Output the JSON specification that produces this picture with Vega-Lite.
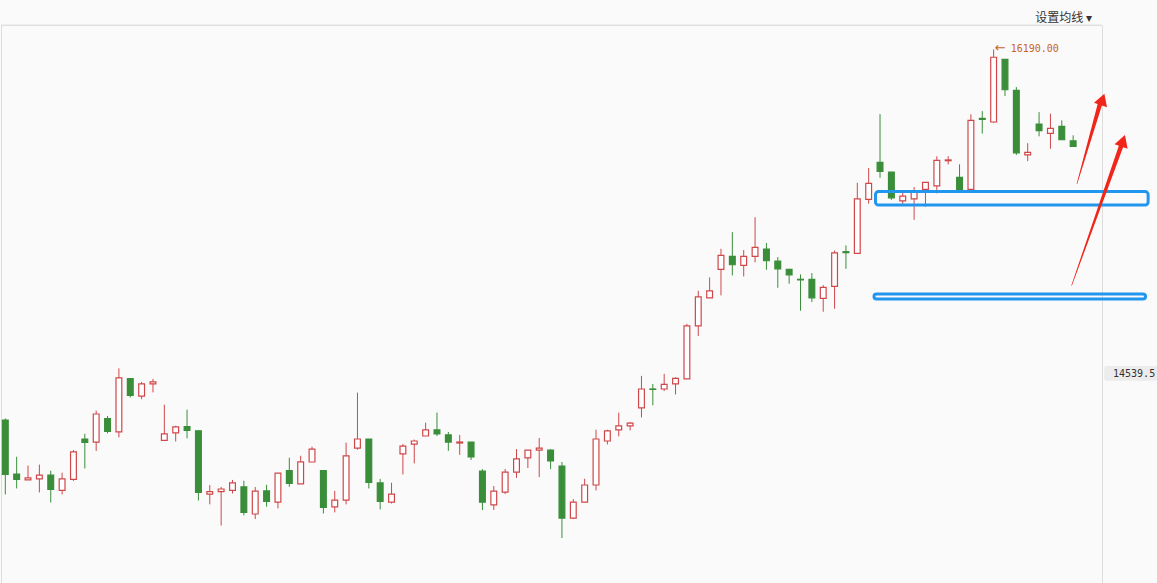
{
  "$schema": "https://vega.github.io/schema/vega-lite/v6.json",
  "width": 1101,
  "height": 560,
  "padding": {"left": 0, "top": 11, "right": 0, "bottom": 0},
  "background": "#fafafa",
  "title": {
    "text": "设置均线 ▾",
    "anchor": "end",
    "frame": "group",
    "orient": "top",
    "offset": 0,
    "dx": -10,
    "font": "Noto Sans CJK SC",
    "fontSize": 12,
    "fontWeight": "normal",
    "color": "#333333"
  },
  "datasets": {
    "candles": [
      {"i": 1, "o": 14352, "h": 14360, "l": 13983, "c": 14082},
      {"i": 2, "o": 14084, "h": 14170, "l": 14013, "c": 14058},
      {"i": 3, "o": 14055, "h": 14126, "l": 14055, "c": 14065},
      {"i": 4, "o": 14060, "h": 14131, "l": 13993, "c": 14079},
      {"i": 5, "o": 14079, "h": 14101, "l": 13943, "c": 14008},
      {"i": 6, "o": 14003, "h": 14091, "l": 13983, "c": 14060},
      {"i": 7, "o": 14058, "h": 14203, "l": 14050, "c": 14194},
      {"i": 8, "o": 14258, "h": 14284, "l": 14112, "c": 14241},
      {"i": 9, "o": 14243, "h": 14399, "l": 14199, "c": 14382},
      {"i": 10, "o": 14359, "h": 14372, "l": 14286, "c": 14296},
      {"i": 11, "o": 14293, "h": 14608, "l": 14266, "c": 14561},
      {"i": 12, "o": 14557, "h": 14557, "l": 14464, "c": 14474},
      {"i": 13, "o": 14471, "h": 14541, "l": 14455, "c": 14531},
      {"i": 14, "o": 14531, "h": 14556, "l": 14489, "c": 14541},
      {"i": 15, "o": 14251, "h": 14428, "l": 14251, "c": 14283},
      {"i": 16, "o": 14288, "h": 14324, "l": 14246, "c": 14318},
      {"i": 17, "o": 14319, "h": 14403, "l": 14261, "c": 14301},
      {"i": 18, "o": 14299, "h": 14299, "l": 13953, "c": 13993},
      {"i": 19, "o": 13985, "h": 14030, "l": 13934, "c": 13997},
      {"i": 20, "o": 13997, "h": 14020, "l": 13829, "c": 14010},
      {"i": 21, "o": 14003, "h": 14055, "l": 13988, "c": 14040},
      {"i": 22, "o": 14021, "h": 14051, "l": 13879, "c": 13894},
      {"i": 23, "o": 13886, "h": 14020, "l": 13861, "c": 14000},
      {"i": 24, "o": 14001, "h": 14031, "l": 13922, "c": 13948},
      {"i": 25, "o": 13945, "h": 14089, "l": 13914, "c": 14089},
      {"i": 26, "o": 14101, "h": 14165, "l": 14021, "c": 14038},
      {"i": 27, "o": 14035, "h": 14175, "l": 14035, "c": 14145},
      {"i": 28, "o": 14144, "h": 14220, "l": 14144, "c": 14208},
      {"i": 29, "o": 14101, "h": 14101, "l": 13889, "c": 13919},
      {"i": 30, "o": 13921, "h": 14001, "l": 13894, "c": 13955},
      {"i": 31, "o": 13955, "h": 14240, "l": 13934, "c": 14174},
      {"i": 32, "o": 14213, "h": 14488, "l": 14205, "c": 14258},
      {"i": 33, "o": 14258, "h": 14258, "l": 14013, "c": 14043},
      {"i": 34, "o": 14040, "h": 14060, "l": 13909, "c": 13948},
      {"i": 35, "o": 13945, "h": 14041, "l": 13938, "c": 13985},
      {"i": 36, "o": 14184, "h": 14233, "l": 14082, "c": 14223},
      {"i": 37, "o": 14233, "h": 14255, "l": 14137, "c": 14248},
      {"i": 38, "o": 14273, "h": 14339, "l": 14273, "c": 14303},
      {"i": 39, "o": 14303, "h": 14389, "l": 14273, "c": 14283},
      {"i": 40, "o": 14278, "h": 14293, "l": 14199, "c": 14243},
      {"i": 41, "o": 14238, "h": 14278, "l": 14179, "c": 14243},
      {"i": 42, "o": 14243, "h": 14243, "l": 14154, "c": 14169},
      {"i": 43, "o": 14099, "h": 14109, "l": 13906, "c": 13945},
      {"i": 44, "o": 13931, "h": 14025, "l": 13906, "c": 14000},
      {"i": 45, "o": 13995, "h": 14109, "l": 13985, "c": 14094},
      {"i": 46, "o": 14094, "h": 14208, "l": 14065, "c": 14159},
      {"i": 47, "o": 14164, "h": 14203, "l": 14114, "c": 14203},
      {"i": 48, "o": 14203, "h": 14263, "l": 14069, "c": 14213},
      {"i": 49, "o": 14203, "h": 14208, "l": 14109, "c": 14149},
      {"i": 50, "o": 14124, "h": 14144, "l": 13767, "c": 13866},
      {"i": 51, "o": 13866, "h": 13960, "l": 13861, "c": 13945},
      {"i": 52, "o": 13945, "h": 14061, "l": 13945, "c": 14030},
      {"i": 53, "o": 14030, "h": 14304, "l": 14003, "c": 14258},
      {"i": 54, "o": 14248, "h": 14304, "l": 14231, "c": 14298},
      {"i": 55, "o": 14303, "h": 14389, "l": 14271, "c": 14323},
      {"i": 56, "o": 14323, "h": 14342, "l": 14301, "c": 14337},
      {"i": 57, "o": 14412, "h": 14571, "l": 14365, "c": 14506},
      {"i": 58, "o": 14506, "h": 14531, "l": 14425, "c": 14504},
      {"i": 59, "o": 14506, "h": 14581, "l": 14496, "c": 14529},
      {"i": 60, "o": 14531, "h": 14564, "l": 14479, "c": 14559},
      {"i": 61, "o": 14556, "h": 14829, "l": 14556, "c": 14819},
      {"i": 62, "o": 14819, "h": 14993, "l": 14769, "c": 14963},
      {"i": 63, "o": 14958, "h": 15059, "l": 14958, "c": 14993},
      {"i": 64, "o": 15099, "h": 15201, "l": 14970, "c": 15169},
      {"i": 65, "o": 15164, "h": 15284, "l": 15069, "c": 15122},
      {"i": 66, "o": 15119, "h": 15195, "l": 15064, "c": 15164},
      {"i": 67, "o": 15164, "h": 15358, "l": 15134, "c": 15208},
      {"i": 68, "o": 15200, "h": 15230, "l": 15097, "c": 15142},
      {"i": 69, "o": 15140, "h": 15160, "l": 15008, "c": 15102},
      {"i": 70, "o": 15099, "h": 15099, "l": 15028, "c": 15072},
      {"i": 71, "o": 15050, "h": 15074, "l": 14894, "c": 15047},
      {"i": 72, "o": 15050, "h": 15081, "l": 14937, "c": 14958},
      {"i": 73, "o": 14955, "h": 15021, "l": 14889, "c": 15010},
      {"i": 74, "o": 15015, "h": 15193, "l": 14904, "c": 15181},
      {"i": 75, "o": 15187, "h": 15218, "l": 15102, "c": 15182},
      {"i": 76, "o": 15179, "h": 15529, "l": 15179, "c": 15449},
      {"i": 77, "o": 15446, "h": 15602, "l": 15425, "c": 15526},
      {"i": 78, "o": 15630, "h": 15869, "l": 15553, "c": 15585},
      {"i": 79, "o": 15582, "h": 15582, "l": 15444, "c": 15454},
      {"i": 80, "o": 15439, "h": 15492, "l": 15417, "c": 15462},
      {"i": 81, "o": 15449, "h": 15507, "l": 15345, "c": 15482},
      {"i": 82, "o": 15496, "h": 15531, "l": 15410, "c": 15531},
      {"i": 83, "o": 15513, "h": 15660, "l": 15476, "c": 15640},
      {"i": 84, "o": 15638, "h": 15660, "l": 15620, "c": 15642},
      {"i": 85, "o": 15555, "h": 15620, "l": 15496, "c": 15496},
      {"i": 86, "o": 15496, "h": 15868, "l": 15496, "c": 15838},
      {"i": 87, "o": 15848, "h": 15884, "l": 15772, "c": 15843},
      {"i": 88, "o": 15830, "h": 16190, "l": 15826, "c": 16151},
      {"i": 89, "o": 16141, "h": 16141, "l": 15959, "c": 15990},
      {"i": 90, "o": 15987, "h": 16003, "l": 15667, "c": 15677},
      {"i": 91, "o": 15667, "h": 15725, "l": 15636, "c": 15679},
      {"i": 92, "o": 15820, "h": 15879, "l": 15759, "c": 15787},
      {"i": 93, "o": 15774, "h": 15871, "l": 15697, "c": 15798},
      {"i": 94, "o": 15808, "h": 15838, "l": 15742, "c": 15742},
      {"i": 95, "o": 15737, "h": 15764, "l": 15709, "c": 15709}
    ],
    "zones": [
      {"zone": "upper", "from": 77.6, "to": 101.6, "lo": 15418, "hi": 15485},
      {"zone": "lower", "from": 77.47, "to": 101.37, "lo": 14952, "hi": 14977}
    ],
    "arrows": [
      {"arrow": "a", "end": "base", "i": 95.34, "price": 15524},
      {"arrow": "a", "end": "tip", "i": 97.36, "price": 15919},
      {"arrow": "b", "end": "base", "i": 94.87, "price": 15020},
      {"arrow": "b", "end": "tip", "i": 99.21, "price": 15709}
    ],
    "heads": [
      {"arrow": "a", "i": 97.58, "price": 15942},
      {"arrow": "b", "i": 99.39, "price": 15737}
    ],
    "last": [{"price": 14539.5}]
  },
  "layer": [
    {
      "data": {"name": "candles"},
      "mark": {"type": "rule", "strokeWidth": 1},
      "encoding": {
        "x": {"field": "i", "type": "quantitative", "scale": {"domain": [0.6215, 97.54], "nice": false, "zero": false, "padding": 0}, "axis": null},
        "y": {"field": "l", "type": "quantitative", "scale": {"domain": [13534, 16311], "nice": false, "zero": false}, "axis": null},
        "y2": {"field": "h"},
        "stroke": {"condition": {"test": "datum.c >= datum.o", "value": "#d0474a"}, "value": "#3a8e3a"}
      }
    },
    {
      "data": {"name": "candles"},
      "mark": {"type": "bar", "size": 5.8, "strokeWidth": 1.2},
      "encoding": {
        "x": {"field": "i", "type": "quantitative", "scale": {"domain": [0.6215, 97.54], "nice": false, "zero": false, "padding": 0}, "axis": null},
        "y": {"field": "o", "type": "quantitative", "scale": {"domain": [13534, 16311], "nice": false, "zero": false}, "axis": null},
        "y2": {"field": "c"},
        "fill": {"condition": {"test": "datum.c >= datum.o", "value": "#ffffff"}, "value": "#3a8e3a"},
        "stroke": {"condition": {"test": "datum.c >= datum.o", "value": "#d0474a"}, "value": "#3a8e3a"}
      }
    },
    {
      "data": {"name": "candles"},
      "transform": [
        {"joinaggregate": [{"op": "max", "field": "h", "as": "hmax"}]},
        {"filter": "datum.h == datum.hmax"}
      ],
      "mark": {"type": "text", "align": "left", "baseline": "middle", "dx": 1, "dy": -1, "font": "DejaVu Sans", "fontSize": 13, "color": "#c8641e", "text": "←"},
      "encoding": {
        "x": {"field": "i", "type": "quantitative", "scale": {"domain": [0.6215, 97.54], "nice": false, "zero": false, "padding": 0}, "axis": null},
        "y": {"field": "h", "type": "quantitative", "scale": {"domain": [13534, 16311], "nice": false, "zero": false}, "axis": null}
      }
    },
    {
      "data": {"name": "candles"},
      "transform": [
        {"joinaggregate": [{"op": "max", "field": "h", "as": "hmax"}]},
        {"filter": "datum.h == datum.hmax"}
      ],
      "mark": {"type": "text", "align": "left", "baseline": "middle", "dx": 17, "font": "DejaVu Sans Mono", "fontSize": 10, "color": "#c8641e"},
      "encoding": {
        "x": {"field": "i", "type": "quantitative", "scale": {"domain": [0.6215, 97.54], "nice": false, "zero": false, "padding": 0}, "axis": null},
        "y": {"field": "h", "type": "quantitative", "scale": {"domain": [13534, 16311], "nice": false, "zero": false}, "axis": null},
        "text": {"field": "h", "type": "quantitative", "format": ".2f"}
      }
    },
    {
      "data": {"name": "zones"},
      "mark": {"type": "rect", "fill": null, "stroke": "#2196ee", "strokeWidth": 3, "cornerRadius": 3},
      "encoding": {
        "x": {"field": "from", "type": "quantitative", "scale": {"domain": [0.6215, 97.54], "nice": false, "zero": false, "padding": 0}, "axis": null},
        "x2": {"field": "to"},
        "y": {"field": "lo", "type": "quantitative", "scale": {"domain": [13534, 16311], "nice": false, "zero": false}, "axis": null},
        "y2": {"field": "hi"}
      }
    },
    {
      "data": {"name": "arrows"},
      "mark": {"type": "trail", "color": "#f0261a"},
      "encoding": {
        "x": {"field": "i", "type": "quantitative", "scale": {"domain": [0.6215, 97.54], "nice": false, "zero": false, "padding": 0}, "axis": null},
        "y": {"field": "price", "type": "quantitative", "scale": {"domain": [13534, 16311], "nice": false, "zero": false}, "axis": null},
        "detail": {"field": "arrow"},
        "size": {"field": "end", "type": "ordinal", "scale": {"domain": ["base", "tip"], "range": [0.6, 4.5]}, "legend": null}
      }
    },
    {
      "data": {"name": "heads"},
      "mark": {"type": "point", "shape": "triangle-up", "filled": true, "size": 190, "angle": 19, "color": "#f0261a", "opacity": 1},
      "encoding": {
        "x": {"field": "i", "type": "quantitative", "scale": {"domain": [0.6215, 97.54], "nice": false, "zero": false, "padding": 0}, "axis": null},
        "y": {"field": "price", "type": "quantitative", "scale": {"domain": [13534, 16311], "nice": false, "zero": false}, "axis": null}
      }
    },
    {
      "data": {"name": "last"},
      "mark": {"type": "rect", "fill": "#ececec", "cornerRadius": 2},
      "encoding": {
        "x": {"datum": 97.74, "type": "quantitative", "scale": {"domain": [0.6215, 97.54], "nice": false, "zero": false, "padding": 0}, "axis": null},
        "x2": {"datum": 102.45},
        "y": {"datum": 14620, "type": "quantitative", "scale": {"domain": [13534, 16311], "nice": false, "zero": false}, "axis": null},
        "y2": {"datum": 14547}
      }
    },
    {
      "data": {"name": "last"},
      "mark": {"type": "text", "align": "left", "baseline": "middle", "dy": -8, "font": "DejaVu Sans Mono", "fontSize": 10, "color": "#333333"},
      "encoding": {
        "x": {"datum": 98.51, "type": "quantitative", "scale": {"domain": [0.6215, 97.54], "nice": false, "zero": false, "padding": 0}, "axis": null},
        "y": {
          "field": "price",
          "type": "quantitative",
          "scale": {"domain": [13534, 16311], "nice": false, "zero": false},
          "axis": {
            "orient": "right",
            "title": null,
            "values": [13600, 13800, 14000, 14200, 14400, 14600, 14800, 15000, 15200, 15400, 15600, 15800, 16000],
            "format": ".1f",
            "grid": true,
            "gridColor": "#c4c4c4",
            "gridDash": [1.5, 3],
            "ticks": false,
            "domain": true,
            "domainColor": "#e2e2e2",
            "labelFont": "DejaVu Sans Mono",
            "labelFontSize": 10,
            "labelColor": "#777777",
            "labelPadding": 11,
            "labelAlign": "left"
          }
        },
        "text": {"field": "price", "type": "quantitative", "format": ".1f"}
      }
    },
    {
      "data": {"name": "last"},
      "mark": {"type": "rule", "color": "#e2e2e2", "strokeWidth": 1},
      "encoding": {
        "y": {"datum": 16311, "type": "quantitative", "scale": {"domain": [13534, 16311], "nice": false, "zero": false}, "axis": null}
      }
    }
  ]
}
